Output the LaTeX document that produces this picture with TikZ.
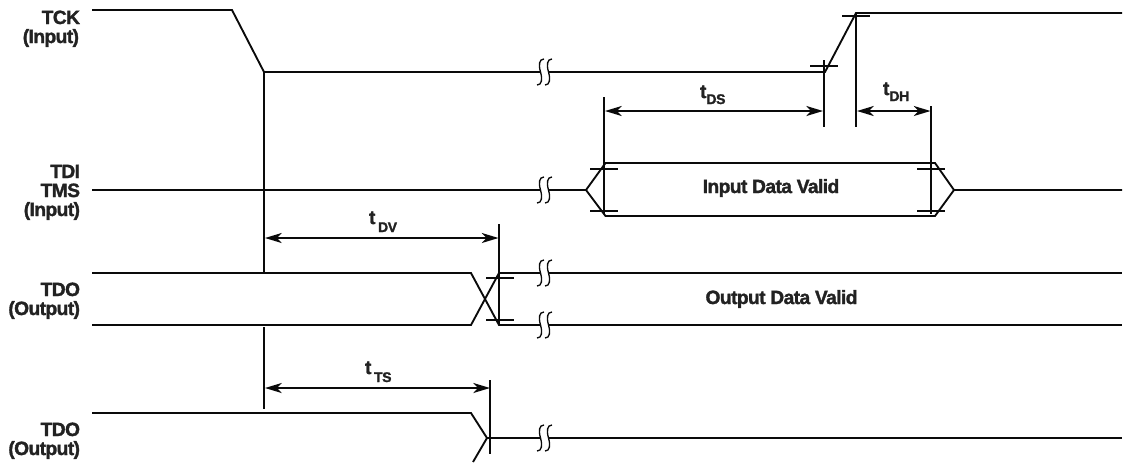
\documentclass[tikz,border=0pt]{standalone}
\usepackage{fontspec}
\setmainfont{Liberation Sans}
\newfontfamily\labfont[FakeBold=1.6,LetterSpace=-3]{Liberation Sans}[BoldFont={Liberation Sans Bold}]
\usetikzlibrary{arrows.meta}
\definecolor{ink}{HTML}{0A0A0A}
\definecolor{labelink}{HTML}{222222}
\tikzset{
  wave/.style={draw=ink,line width=1.4pt,line join=miter},
  guide/.style={draw=ink,line width=1.4pt},
  tick/.style={draw=ink,line width=1.3pt},
  dim/.style={draw=ink,line width=1.3pt,{Stealth[length=12.5pt,width=7.5pt,inset=3.5pt]}-{Stealth[length=12.5pt,width=7.5pt,inset=3.5pt]}},
  sig/.style={font=\labfont\bfseries\fontsize{14.4}{14.4}\selectfont,text=labelink,anchor=base east,inner sep=0pt,outer sep=0pt},
  lab/.style={font=\labfont\bfseries\fontsize{14.4}{14.4}\selectfont,text=labelink,anchor=base,inner sep=0pt,outer sep=0pt},
  tlab/.style={lab,anchor=base west},
  brk/.pic={
    \draw[draw=ink,line width=1pt] (0,13) .. controls (5,13) and (5.5,7) .. (3.5,0) .. controls (1.5,-7) and (2,-13) .. (7,-13);
    \draw[draw=ink,line width=1pt] (8,13) .. controls (13,13) and (13.5,7) .. (11.5,0) .. controls (9.5,-7) and (10,-13) .. (15,-13);
  }
}
\newcommand{\tsub}[3]{t\kern#1\raisebox{#2}{\fontsize{10.5}{10.5}\selectfont #3}}
\begin{document}
\begin{tikzpicture}[x=0.75pt,y=-0.75pt]
\useasboundingbox (0,0) rectangle (1124,462);
% signal labels
\node[sig] (lTCK) at (80,24) {TCK};
\node[sig] (lTCKi) at (79,43) {(Input)};
\node[sig] (lTDI) at (80,178) {TDI};
\node[sig] (lTMS) at (80,197) {TMS};
\node[sig] (lTDIi) at (80,216) {(Input)};
\node[sig] (lTDOa) at (80,296) {TDO};
\node[sig] (lTDOao) at (80,315) {(Output)};
\node[sig] (lTDOb) at (80,436) {TDO};
\node[sig] (lTDOc) at (80,455) {(Output)};
% waveforms
\draw[wave] (92,10) -- (232,10) -- (264,72) -- (540,72);
\draw[wave] (548,72) -- (825,72) -- (856,13) -- (1122,13);
\draw[wave] (92,190) -- (540,190);
\draw[wave] (548,190) -- (586,190) -- (605.5,163) -- (935,163) -- (954,190) -- (1122,190);
\draw[wave] (586,190) -- (605.5,216) -- (935,216) -- (954,190);
\draw[wave] (92,273) -- (471,273) -- (499,325) -- (540,325);
\draw[wave] (548,325) -- (1122,325);
\draw[wave] (92,325) -- (471,325) -- (499,273) -- (540,273);
\draw[wave] (548,273) -- (1122,273);
\draw[wave] (92,413) -- (471,413) -- (487,438) -- (540,438);
\draw[wave] (548,438) -- (1122,438);
\draw[wave] (487,438) -- (473,462);
% breaks
\foreach \yy in {72,190,273,325,438} \pic at (537,\yy) {brk};
% guides
\coordinate (gA) at (264,72);
\coordinate (gB) at (264,272);
\coordinate (gC) at (264,327);
\coordinate (gD) at (264,409);
\draw[guide] (gA) -- (gB);
\draw[guide] (gC) -- (gD);
\coordinate (gE) at (604,97);
\coordinate (gF) at (604,214);
\draw[guide] (gE) -- (gF);
\coordinate (gG) at (931,106);
\coordinate (gH) at (931,214);
\draw[guide] (gG) -- (gH);
\coordinate (gI) at (824,60);
\coordinate (gJ) at (824,127);
\draw[guide] (gI) -- (gJ);
\coordinate (gK) at (856,13);
\coordinate (gL) at (856,127);
\draw[guide] (gK) -- (gL);
\coordinate (gM) at (499,224);
\coordinate (gN) at (499,325);
\draw[guide] (gM) -- (gN);
\coordinate (gO) at (490,380);
\coordinate (gP) at (490,453.5);
\draw[guide] (gO) -- (gP);
% ticks
\draw[tick] (590,169) -- (618,169);
\draw[tick] (590,211) -- (618,211);
\draw[tick] (917,169) -- (945,169);
\draw[tick] (917,211) -- (945,211);
\draw[tick] (810,66) -- (838,66);
\draw[tick] (842,16) -- (870,16);
\draw[tick] (486,278) -- (514,278);
\draw[tick] (486,320) -- (514,320);
% dimension arrows
\coordinate (dA) at (605,111);
\coordinate (dB) at (823,111);
\draw[dim] (dA) -- (dB);
\coordinate (dC) at (857,111);
\coordinate (dD) at (930.5,111);
\draw[dim] (dC) -- (dD);
\coordinate (dE) at (265,238);
\coordinate (dF) at (498.5,238);
\draw[dim] (dE) -- (dF);
\coordinate (dG) at (265,388);
\coordinate (dH) at (490,388);
\draw[dim] (dG) -- (dH);
% timing labels
\node[tlab] (tDS) at (700,98) {\tsub{0pt}{-4.5pt}{DS}};
\node[tlab] (tDH) at (883,95) {\tsub{0pt}{-4.5pt}{DH}};
\node[tlab] (tDV) at (369,224) {\tsub{2pt}{-6pt}{DV}};
\node[tlab] (tTS) at (365,374) {\tsub{2pt}{-6pt}{TS}};
\node[lab] (inv) at (771,193) {Input Data Valid};
\node[lab] (outv) at (781.5,304) {Output Data Valid};
\end{tikzpicture}
\end{document}
